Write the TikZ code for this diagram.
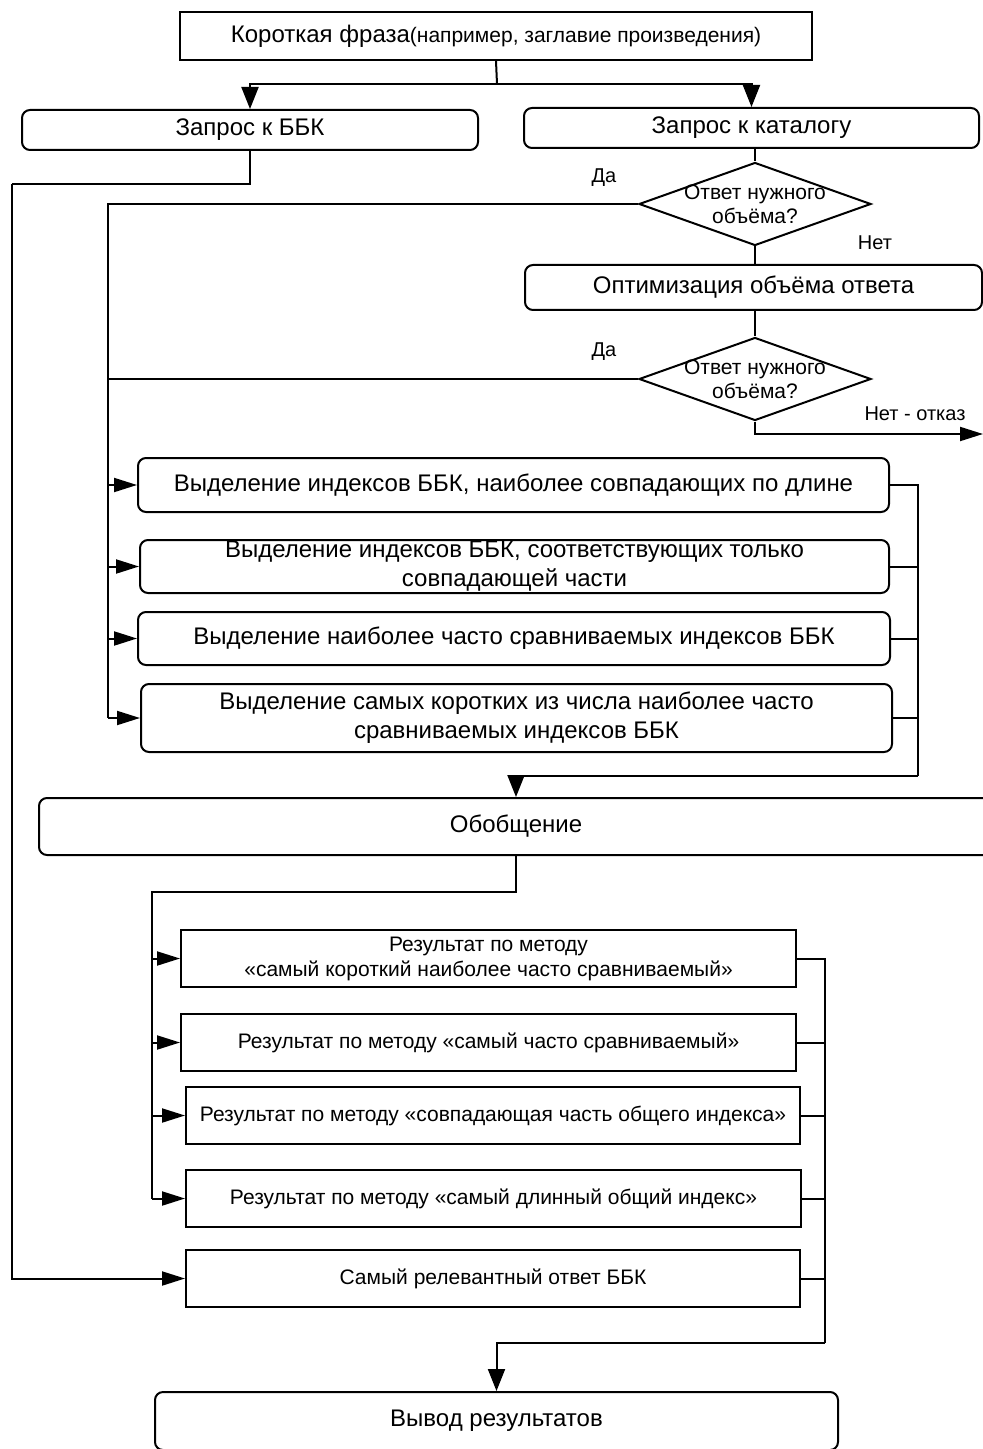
\documentclass[tikz,border=0pt]{standalone}
\usepackage{fontspec}
\setmainfont{Liberation Sans}
\usetikzlibrary{arrows.meta,shapes.geometric}
\newcommand{\lw}{1pt}
\newcommand{\rnd}{4pt}
\newcommand{\bigf}{\fontsize{12}{14.5}\selectfont}
\newcommand{\smallf}{\fontsize{10.5}{12.5}\selectfont}

\begin{document}
\begin{tikzpicture}[x=0.5pt,y=-0.5pt,line width=\lw,
        rbox/.style={draw,rounded corners=\rnd,align=center,inner sep=0pt,font=\bigf},
        sbox/.style={draw,align=center,inner sep=0pt,font=\smallf},
        diam/.style={draw,diamond,inner sep=0pt,minimum width=116pt,minimum height=41.5pt},
        qtext/.style={align=center,inner sep=0pt,font=\fontsize{10.5}{12}\selectfont},
        lbl/.style={inner sep=0pt,font=\fontsize{10}{12}\selectfont},
        arr/.style={-{Triangle[length=11.5pt,width=7pt]}},
        darr/.style={-{Triangle[length=11pt,width=8.5pt]}}]
                %\draw[help lines] (0,0) grid[step=50] (983,1449);
                \useasboundingbox (0,0) rectangle (983,1449);
                % top part
                \node[sbox,minimum width=316pt,minimum height=24pt] (phrase) at (496,36)
                        {{\bigf Короткая фраза}(например, заглавие произведения)};
                \node[rbox,minimum width=228pt,minimum height=20pt] (bbk) at (250,130) {Запрос к ББК};
                \node[rbox,minimum width=227.5pt,minimum height=20pt] (cat) at (751.5,128) {Запрос к каталогу};
                \node[diam] (d1) at (755,204) {};
                \node[qtext] (d1t) at (d1) {Ответ нужного\\объёма?};
                \node[rbox,minimum width=228.5pt,minimum height=22.5pt] (opt) at (753.5,287.5) {Оптимизация объёма ответа};
                \node[diam] (d2) at (755,379) {};
                \node[qtext] (d2t) at (d2) {Ответ нужного\\объёма?};
                \node[lbl] (yes1) at (604,178) {Да};
                \node[lbl] (no1) at (875,243) {Нет};
                \node[lbl] (yes2) at (604,352) {Да};
                \node[lbl] (no2) at (915,414) {Нет - отказ};
                % selection of indices
                \node[rbox,minimum width=375.5pt,minimum height=27pt] (selA) at (513.5,485)
                        {Выделение индексов ББК, наиболее совпадающих по длине};
                \node[rbox,minimum width=374.5pt,minimum height=26.5pt] (selB) at (514.5,566.5)
                        {Выделение индексов ББК, соответствующих только\\совпадающей части};
                \node[rbox,minimum width=376pt,minimum height=26.5pt] (selC) at (514,638.5)
                        {Выделение наиболее часто сравниваемых индексов ББК};
                \node[rbox,minimum width=375.5pt,minimum height=34pt] (selD) at (516.5,718)
                        {Выделение самых коротких из числа наиболее часто\\сравниваемых индексов ББК};
                \node[rbox,minimum width=477pt,minimum height=28.5pt] (gen) at (516,826.5) {Обобщение};
                % results
                \node[sbox,minimum width=307.5pt,minimum height=28.5pt] (resE) at (488.5,958.5)
                        {Результат по методу\\«самый короткий наиболее часто сравниваемый»};
                \node[sbox,minimum width=307.5pt,minimum height=28.5pt] (resF) at (488.5,1042.5)
                        {Результат по методу «самый часто сравниваемый»};
                \node[sbox,minimum width=307pt,minimum height=28.5pt] (resG) at (493,1115.5)
                        {Результат по методу «совпадающая часть общего индекса»};
                \node[sbox,minimum width=307.5pt,minimum height=28.5pt] (resH) at (493.5,1198.5)
                        {Результат по методу «самый длинный общий индекс»};
                \node[sbox,minimum width=307pt,minimum height=28.5pt] (resI) at (493,1278.5)
                        {Самый релевантный ответ ББК};
                \node[rbox,minimum width=341.5pt,minimum height=29pt] (out) at (496.5,1421) {Вывод результатов};
                % bends
                \coordinate (split) at (497,84);
                \coordinate (farl) at (12,184);
                \coordinate (busl) at (108,204);
                \coordinate (busr) at (918,776);
                \coordinate (refuse) at (983,434);
                \coordinate (busl2) at (152,892);
                \coordinate (busr2) at (825,1343);
                % connectors
                \draw (phrase.south) -- (split);
                \draw[darr] (split) -| (bbk.north);
                \draw[darr] (split) -| (cat.north);
                \draw (bbk.south) |- (farl);
                \draw[arr] (farl) |- (resI.west);
                \draw (cat.south -| d1.north) -- (d1.north);
                \draw (d1.south) -- (opt.north -| d1.south);
                \draw (opt.south -| d2.north) -- (d2.north);
                \draw[arr] (d2.south) |- (refuse);
                \draw (d1.west) -- (busl) -- (busl |- selD.west);
                \draw (d2.west) -- (busl |- d2.west);
                \foreach \n in {selA,selB,selC,selD}
                        \draw[arr] (busl |- \n.west) -- (\n.west);
                \draw (selA.east) -| (busr);
                \foreach \n in {selB,selC,selD}
                        \draw (\n.east) -- (busr |- \n.east);
                \draw[darr] (busr) -| (gen.north);
                \draw[line width=1.3pt] (gen.south) |- (busl2) -- (busl2 |- resH.west);
                \foreach \n in {resE,resF,resG,resH}
                        \draw[arr] (busl2 |- \n.west) -- (\n.west);
                \draw (resE.east) -| (busr2);
                \foreach \n in {resF,resG,resH,resI}
                        \draw (\n.east) -- (busr2 |- \n.east);
                \draw[darr] (busr2) -| (out.north);
        \end{tikzpicture}
\end{document}
